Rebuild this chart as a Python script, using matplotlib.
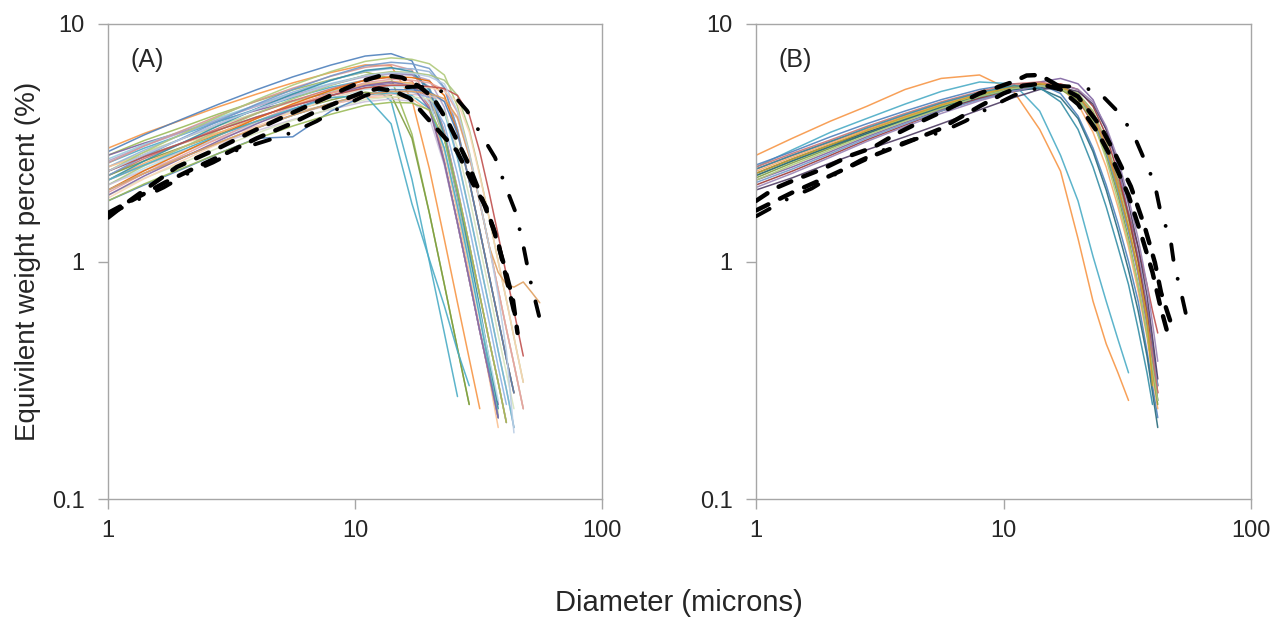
import matplotlib
matplotlib.use("Agg")
import matplotlib.pyplot as plt

plt.rcParams['font.family'] = ['Liberation Sans', 'DejaVu Sans']

# Particle-size bins (microns) shared by the sample curves of each panel
diam_a = [1, 1.4, 2, 2.8, 4, 5.6, 8, 11, 14, 17, 20, 23, 26, 29, 32, 35, 38, 41, 44, 48, 52, 56]
diam_b = [1, 1.4, 2, 2.8, 4, 5.6, 8, 11, 14, 17, 20, 23, 26, 29, 32, 35, 38, 40, 42]

# Panel A: equivalent weight percent per bin (each curve stops at its last measured bin)
samples_a = [
    [3.0, 3.46, 3.95, 4.48, 5.07, 5.65, 6.25, 6.73, 6.67, 4.8, 2.46, 1.24, 0.67, 0.39, 0.24],
    [2.9, 3.41, 3.98, 4.59, 5.29, 5.99, 6.72, 7.33, 7.5, 7.0, 4.85, 2.65, 1.45, 0.84, 0.51, 0.33, 0.22],
    [2.8, 3.23, 3.68, 4.18, 4.73, 5.28, 5.83, 6.28, 5.9, 3.44, 1.6, 0.8, 0.43, 0.25],
    [2.8, 3.15, 3.52, 3.91, 4.33, 4.74, 5.15, 5.49, 5.6, 5.45, 4.9, 3.3, 1.85, 1.05, 0.62, 0.38, 0.25],
    [2.7, 3.11, 3.55, 4.03, 4.56, 5.09, 5.62, 6.06, 6.21, 6.1, 5.44, 3.52, 2.02, 1.18, 0.72, 0.46, 0.31, 0.21],
    [2.65, 3.07, 3.5, 3.97, 4.5, 5.02, 5.55, 6.0, 6.15, 6.1, 5.8, 4.46, 2.75, 1.63, 1.0, 0.64, 0.42, 0.29, 0.2],
    [2.6, 3.0, 3.42, 3.88, 4.39, 4.9, 5.42, 5.8, 4.74, 2.22, 1.0, 0.5, 0.27],
    [2.6, 3.06, 3.56, 4.11, 4.75, 5.37, 6.03, 6.57, 6.75, 6.4, 4.7, 2.62, 1.45, 0.84, 0.51, 0.33, 0.22],
    [2.5, 2.88, 3.29, 3.73, 4.23, 4.71, 5.21, 5.61, 5.74, 5.6, 5.0, 3.3, 1.9, 1.05, 0.6, 0.36, 0.23],
    [2.5, 2.94, 3.43, 3.96, 4.56, 5.17, 5.8, 6.32, 6.5, 6.48, 6.3, 5.36, 3.6, 2.18, 1.35, 0.86, 0.57, 0.39, 0.28],
    [2.5, 2.81, 3.14, 3.49, 3.87, 4.24, 4.6, 4.9, 4.94, 4.85, 4.3, 2.9, 1.6, 0.9, 0.52, 0.32, 0.2],
    [2.4, 2.82, 3.29, 3.8, 4.38, 4.96, 5.56, 6.06, 6.24, 6.14, 5.39, 3.53, 2.02, 1.18, 0.72, 0.46, 0.31, 0.21],
    [2.4, 2.76, 3.16, 3.58, 4.06, 4.52, 5.0, 5.39, 5.52, 5.5, 5.28, 4.25, 2.72, 1.62, 1.0, 0.64, 0.42, 0.29, 0.2],
    [2.4, 2.89, 3.45, 4.07, 4.8, 5.53, 6.31, 6.96, 7.2, 7.1, 6.8, 6.1, 4.5, 2.9, 1.8, 1.15, 0.76, 0.52, 0.37, 0.24],
    [2.3, 2.71, 3.15, 3.64, 4.2, 4.75, 5.33, 5.81, 5.97, 5.75, 4.49, 2.6, 1.45, 0.84, 0.51, 0.33, 0.22],
    [2.3, 2.65, 3.03, 3.43, 3.89, 4.33, 4.79, 5.16, 5.02, 3.3, 1.6, 0.8, 0.43, 0.25],
    [2.3, 2.77, 3.31, 3.9, 4.6, 5.3, 6.05, 6.67, 6.9, 6.8, 6.5, 5.4, 3.6, 2.19, 1.35, 0.86, 0.57, 0.39, 0.28],
    [2.2, 2.59, 3.02, 3.48, 4.02, 4.55, 5.1, 5.56, 5.72, 5.65, 5.08, 3.47, 2.01, 1.18, 0.72, 0.46, 0.31, 0.21],
    [2.2, 2.65, 3.16, 3.73, 4.4, 5.07, 5.79, 6.38, 6.55, 6.3, 5.3, 3.4, 1.95, 1.1, 0.64, 0.38, 0.24],
    [2.2, 2.53, 2.9, 3.28, 3.72, 4.14, 4.58, 4.94, 5.06, 5.05, 5.0, 4.75, 4.0, 2.78, 1.78, 1.15, 0.76, 0.52, 0.37, 0.24],
    [2.1, 2.47, 2.88, 3.32, 3.83, 4.34, 4.87, 5.31, 5.46, 5.43, 4.65, 3.0, 1.71, 1.0, 0.61, 0.39, 0.26],
    [2.1, 2.53, 3.02, 3.56, 4.2, 4.84, 5.52, 6.09, 6.3, 6.25, 6.1, 5.8, 5.0, 3.6, 2.33, 1.51, 1.0, 0.69, 0.48, 0.31],
    [2.1, 2.42, 2.76, 3.13, 3.55, 3.96, 4.37, 4.71, 4.83, 4.73, 4.03, 2.54, 1.44, 0.84, 0.51, 0.33, 0.22],
    [2.0, 2.35, 2.74, 3.16, 3.65, 4.13, 4.64, 5.05, 5.13, 5.0, 4.4, 3.0, 1.7, 0.98, 0.58, 0.35, 0.22],
    [2.0, 2.41, 2.87, 3.39, 4.0, 4.61, 5.26, 5.8, 6.0, 5.95, 5.75, 5.0, 3.5, 2.18, 1.35, 0.86, 0.57, 0.39, 0.28],
    [2.0, 2.35, 2.74, 3.16, 3.65, 4.13, 4.64, 5.05, 5.2, 5.18, 4.9, 3.79, 2.33, 1.4, 0.85, 0.55, 0.36, 0.25],
    [1.95, 2.35, 2.8, 3.3, 3.9, 4.49, 5.13, 5.66, 5.85, 5.8, 5.65, 5.3, 4.25, 2.83, 1.78, 1.15, 0.76, 0.52, 0.37, 0.24],
    [1.9, 2.24, 2.6, 3.01, 3.47, 3.93, 4.4, 4.8, 4.94, 4.93, 4.84, 4.28, 3.02, 1.88, 1.16, 0.75, 0.49, 0.34, 0.24],
    [1.9, 2.29, 2.73, 3.22, 3.8, 4.38, 5.0, 5.51, 5.7, 5.5, 4.39, 2.59, 1.45, 0.84, 0.51, 0.33, 0.22],
    [1.85, 2.23, 2.66, 3.13, 3.7, 4.26, 4.87, 5.37, 5.55, 5.5, 5.4, 5.2, 4.7, 3.51, 2.3, 1.51, 1.0, 0.69, 0.48, 0.31],
    [1.8, 2.1, 2.45, 2.85, 3.3, 3.35, 4.3, 5.0, 5.3, 5.28, 5.2, 4.71, 3.45, 2.18, 1.35, 0.86, 0.57, 0.39, 0.28],
    [1.8, 2.12, 2.47, 2.85, 3.29, 3.72, 4.17, 4.55, 4.68, 4.65, 4.35, 3.27, 1.98, 1.18, 0.72, 0.46, 0.31, 0.21],
    [2.4, 2.76, 3.16, 3.58, 4.06, 4.52, 5.0, 5.39, 5.52, 5.52, 5.45, 5.35, 5.0, 4.15, 2.9, 1.93, 1.29, 0.88, 0.62, 0.4],
    [2.2, 2.55, 2.95, 3.4, 3.9, 4.4, 4.9, 5.0, 3.8, 1.75, 1.02, 0.65, 0.42, 0.3],
    [2.0, 2.35, 2.74, 3.16, 3.65, 4.13, 4.64, 5.05, 5.2, 5.2, 5.1, 4.85, 4.05, 2.79, 1.78, 1.15, 0.9, 0.8, 0.78, 0.82, 0.74, 0.67],
    [2.4, 2.82, 3.29, 3.8, 4.38, 4.96, 5.56, 6.06, 6.24, 6.2, 6.0, 5.6, 4.3, 2.86, 1.79, 1.15, 0.72, 0.42, 0.19],
]
colors_a = [
    '#F79646', '#4F81BD', '#9BBB59', '#8064A2', '#93CDDD', '#B3A2C7',
    '#4BACC6', '#D99694', '#C3D69B', '#95B3D7', '#FAC090', '#9983B5',
    '#6FBDD1', '#AFC97A', '#CD7371', '#7E9D40', '#729ACA', '#F9AB6B',
    '#358EA6', '#E6B9B8', '#B7DEE8', '#A9C47F', '#CCC1DA', '#4BACC6',
    '#E46C0A', '#8EB4E3', '#E6A2A0', '#D7E4BD', '#8064A2', '#FCD5B5',
    '#4F81BD', '#9BBB59', '#C0504D', '#4BACC6', '#E0A060', '#B9CDE5',
]

# Panel B samples
samples_b = [
    [2.8, 3.3, 3.9, 4.5, 5.3, 5.9, 6.1, 5.2, 3.6, 2.4, 1.25, 0.68, 0.45, 0.34, 0.26],
    [2.5, 2.95, 3.5, 4.0, 4.6, 5.2, 5.7, 5.6, 4.3, 2.8, 1.8, 1.05, 0.68, 0.47, 0.34],
    [2.55, 2.9, 3.35, 3.8, 4.3, 4.8, 5.3, 5.6, 5.6, 5.1, 4.1, 3.0, 2.1, 1.45, 1.0, 0.68, 0.42, 0.3, 0.22],
    [2.45, 2.8, 3.2, 3.6, 4.1, 4.6, 5.1, 5.5, 5.6, 5.4, 4.8, 3.8, 2.9, 2.2, 1.6, 1.15, 0.8, 0.62, 0.5],
    [2.3, 2.65, 3.05, 3.5, 4.0, 4.5, 5.0, 5.4, 5.6, 5.5, 5.1, 4.3, 3.2, 2.2, 1.5, 1.0, 0.62, 0.42, 0.3],
    [2.2, 2.5, 2.9, 3.35, 3.85, 4.35, 4.9, 5.4, 5.7, 5.9, 5.6, 4.8, 3.6, 2.5, 1.6, 1.05, 0.65, 0.45, 0.3],
    [2.35, 2.7, 3.1, 3.5, 3.95, 4.4, 4.85, 5.2, 5.4, 5.3, 4.9, 4.0, 2.9, 2.0, 1.35, 0.9, 0.55, 0.38, 0.26],
    [2.1, 2.4, 2.8, 3.25, 3.75, 4.3, 4.85, 5.3, 5.6, 5.6, 5.3, 4.5, 3.4, 2.35, 1.55, 1.0, 0.6, 0.4, 0.28],
    [2.0, 2.25, 2.6, 2.95, 3.35, 3.8, 4.35, 4.9, 5.3, 5.4, 5.2, 4.6, 3.6, 2.6, 1.75, 1.15, 0.72, 0.48, 0.32],
    [2.4, 2.75, 3.15, 3.6, 4.1, 4.6, 5.1, 5.5, 5.65, 5.4, 4.6, 3.5, 2.5, 1.7, 1.15, 0.75, 0.48, 0.33, 0.24],
    [2.25, 2.6, 3.0, 3.45, 3.95, 4.45, 4.95, 5.35, 5.5, 5.3, 4.8, 3.9, 2.8, 1.9, 1.25, 0.8, 0.5, 0.35, 0.25],
    [2.15, 2.45, 2.85, 3.3, 3.8, 4.3, 4.8, 5.25, 5.5, 5.45, 5.0, 4.0, 2.9, 2.0, 1.35, 0.88, 0.55, 0.4, 0.3],
    [2.3, 2.65, 3.05, 3.45, 3.95, 4.45, 4.95, 5.3, 5.35, 4.9, 4.0, 2.9, 2.0, 1.35, 0.92, 0.62, 0.4, 0.28, 0.2],
    [2.05, 2.35, 2.75, 3.2, 3.7, 4.2, 4.75, 5.2, 5.5, 5.55, 5.3, 4.7, 3.7, 2.7, 1.85, 1.25, 0.8, 0.55, 0.38],
    [2.5, 2.85, 3.25, 3.7, 4.2, 4.7, 5.2, 5.6, 5.7, 5.5, 5.0, 4.2, 3.1, 2.1, 1.4, 0.9, 0.56, 0.4, 0.28],
    [2.2, 2.55, 2.95, 3.4, 3.9, 4.4, 4.95, 5.35, 5.5, 5.35, 4.9, 3.9, 2.7, 1.8, 1.2, 0.8, 0.5, 0.36, 0.26],
    [2.35, 2.7, 3.1, 3.55, 4.05, 4.55, 5.05, 5.45, 5.6, 5.45, 5.0, 4.1, 3.0, 2.05, 1.4, 0.92, 0.58, 0.3],
    [2.45, 2.8, 3.2, 3.65, 4.15, 4.65, 5.15, 5.5, 5.4, 4.7, 3.6, 2.5, 1.7, 1.15, 0.8, 0.52, 0.34, 0.25],
]
colors_b = [
    '#F79646', '#4BACC6', '#4F81BD', '#C0504D', '#9BBB59', '#8064A2',
    '#2C4D75', '#9F3B38', '#4D3B62', '#F9AB6B', '#7E9D40', '#729ACA',
    '#276A7C', '#9983B5', '#CD7371', '#AFC97A', '#C9A227', '#358EA6',
]

# Reference distributions drawn in black (panel A)
ref_a_dash1_x = [1, 1.23, 1.5, 1.9, 2.8, 4, 5.5, 7, 9, 11, 13, 15.5, 18, 20.7, 24, 28.4, 32, 36.2, 40, 43.6, 45.5]
ref_a_dash1_y = [1.53, 1.81, 2.1, 2.5, 3.0, 3.6, 4.2, 4.7, 5.3, 5.8, 6.1, 5.95, 5.5, 4.9, 3.8, 2.66, 1.95, 1.39, 0.98, 0.69, 0.5]
ref_a_dash2_x = [1, 1.3, 1.7, 2.2, 3, 4, 5.5, 7, 9, 11, 12.5, 14.5, 16.7, 19.5, 22.7, 25.8, 30, 34, 38, 41, 44]
ref_a_dash2_y = [1.6, 1.85, 2.15, 2.45, 2.85, 3.3, 3.8, 4.3, 4.8, 5.2, 5.35, 5.2, 4.86, 4.04, 3.39, 2.93, 2.13, 1.69, 1.2, 0.85, 0.62]
ref_a_dd_x = [1, 1.32, 1.68, 2.11, 2.66, 3.36, 4.4, 5.56, 7, 8.7, 11, 13, 15, 18, 21, 23.5, 26, 28.4, 32, 36.9, 40.5, 44.4, 47.4, 51, 55.6]
ref_a_dd_y = [1.57, 1.82, 2.05, 2.35, 2.61, 2.96, 3.23, 3.49, 3.9, 4.45, 5.0, 5.25, 5.4, 5.45, 5.35, 5.1, 4.8, 4.32, 3.5, 2.74, 2.1, 1.64, 1.25, 0.85, 0.59]

# Reference distributions drawn in black (panel B)
ref_b_dash1_x = [1, 1.19, 1.41, 1.87, 2.4, 2.97, 3.71, 4.72, 6, 8, 10.9, 12.4, 14, 16.6, 20, 24.7, 28.2, 32.7, 37.2, 40.9, 43.3, 47.5]
ref_b_dash1_y = [1.8, 2.03, 2.19, 2.46, 2.79, 3.02, 3.46, 3.92, 4.4, 5.1, 5.7, 6.07, 6.1, 5.5, 4.95, 3.7, 2.85, 2.07, 1.4, 0.99, 0.74, 0.55]
ref_b_dash2_x = [1, 1.4, 2, 3, 4, 5.5, 8, 10, 12, 14, 17, 20, 24, 28, 32, 36, 40, 43, 46]
ref_b_dash2_y = [1.64, 1.95, 2.3, 2.8, 3.15, 3.6, 4.5, 5.1, 5.5, 5.6, 5.3, 4.6, 3.5, 2.6, 1.9, 1.3, 0.9, 0.65, 0.5]
ref_b_dd_x = [1, 1.35, 1.68, 2.15, 2.63, 3.38, 4.19, 5.55, 7, 8.8, 11, 13, 16, 19, 23.9, 29, 33.4, 37, 40.8, 43.3, 47.2, 48.9, 52.2, 54.6]
ref_b_dd_y = [1.55, 1.84, 2.03, 2.37, 2.66, 2.99, 3.23, 3.49, 3.9, 4.45, 5.0, 5.3, 5.5, 5.45, 5.25, 4.27, 3.46, 2.7, 2.13, 1.58, 1.26, 0.97, 0.74, 0.6]

x_ticks = [1, 10, 100]
x_tick_labels = ['1', '10', '100']
y_ticks = [0.1, 1, 10]
y_tick_labels = ['0.1', '1', '10']

W, H = 1284, 618
fig = plt.figure(figsize=(W / 100, H / 100), dpi=100)
fig.patch.set_facecolor('white')

frame_col = '#A6A6A6'
text_col = '#262626'

ax_a = fig.add_axes([108 / W, 1 - 499 / H, 494 / W, 475 / H])
ax_b = fig.add_axes([756 / W, 1 - 499 / H, 495 / W, 475 / H])

dash_style = (0, (3.1, 2.9))
dashdot_style = (0, (4.0, 5.0, 0.01, 5.0))


def draw_panel(ax, diam, samples, colors, refs, tag):
    for ys, col in zip(samples, colors):
        ax.plot(diam[:len(ys)], ys, color=col, lw=1.1, alpha=0.9,
                solid_capstyle='round', solid_joinstyle='round', zorder=2)
    for (rx, ry, style, lw) in refs:
        ax.plot(rx, ry, color='black', lw=lw, linestyle=style,
                dash_capstyle='round', zorder=3)
    ax.set_xscale('log')
    ax.set_yscale('log')
    ax.set_xlim(1, 100)
    ax.set_ylim(0.1, 10)
    ax.set_xticks(x_ticks)
    ax.set_xticklabels(x_tick_labels)
    ax.set_yticks(y_ticks)
    ax.set_yticklabels(y_tick_labels)
    ax.minorticks_off()
    for sp in ax.spines.values():
        sp.set_color(frame_col)
        sp.set_linewidth(1.0)
    ax.tick_params(axis='both', which='major', direction='out', length=7,
                   width=1.0, color=frame_col, labelsize=17, labelcolor=text_col)
    ax.tick_params(axis='x', pad=8)
    ax.tick_params(axis='y', pad=10)
    ax.text(0.045, 0.925, tag, transform=ax.transAxes, fontsize=18,
            color=text_col, va='center', ha='left')


draw_panel(ax_a, diam_a, samples_a, colors_a,
           [(ref_a_dash2_x, ref_a_dash2_y, dash_style, 3.2),
            (ref_a_dash1_x, ref_a_dash1_y, dash_style, 3.2),
            (ref_a_dd_x, ref_a_dd_y, dashdot_style, 2.8)], '(A)')
draw_panel(ax_b, diam_b, samples_b, colors_b,
           [(ref_b_dash2_x, ref_b_dash2_y, dash_style, 3.2),
            (ref_b_dash1_x, ref_b_dash1_y, dash_style, 3.2),
            (ref_b_dd_x, ref_b_dd_y, dashdot_style, 2.8)], '(B)')

fig.text(28 / W, 1 - 261 / H, 'Equivilent weight percent (%)', rotation=90,
         fontsize=20, color=text_col, ha='center', va='center')
fig.text(679 / W, 1 - 603 / H, 'Diameter (microns)', fontsize=21,
         color=text_col, ha='center', va='center')

fig.savefig('out.png', dpi=100, facecolor='white')
